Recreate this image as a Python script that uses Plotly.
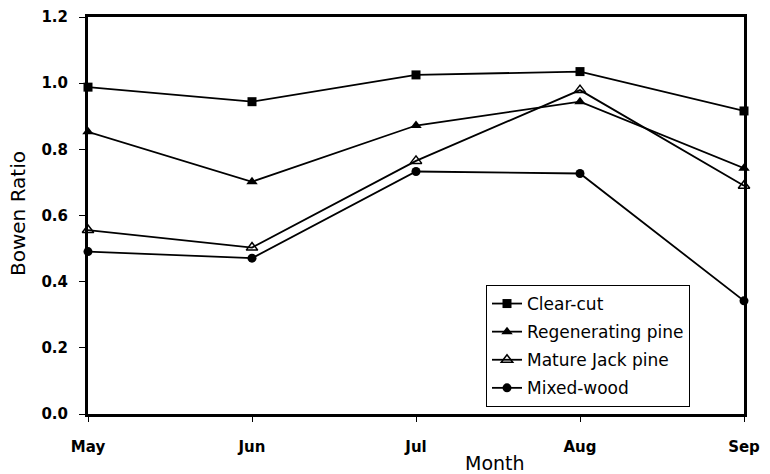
import plotly.graph_objects as go

months = ["May", "Jun", "Jul", "Aug", "Sep"]
clear_cut = [0.988, 0.944, 1.025, 1.035, 0.916]
regenerating_pine = [0.853, 0.702, 0.872, 0.944, 0.743]
mature_jack_pine = [0.556, 0.503, 0.765, 0.979, 0.690]
mixed_wood = [0.491, 0.471, 0.733, 0.727, 0.342]
y_ticks = [0.0, 0.2, 0.4, 0.6, 0.8, 1.0, 1.2]

series = [
    ("Clear-cut", clear_cut, dict(symbol="square", size=9, color="black")),
    ("Regenerating pine", regenerating_pine, dict(symbol="triangle-up", size=10, color="black")),
    ("Mature Jack pine", mature_jack_pine, dict(symbol="triangle-up-open", size=10, color="black", line=dict(width=1.5, color="black"))),
    ("Mixed-wood", mixed_wood, dict(symbol="circle", size=9, color="black")),
]

x_idx = list(range(len(months)))
fig = go.Figure()
for i, (name, vals, mk) in enumerate(series):
    fig.add_trace(go.Scatter(
        x=x_idx, y=vals, name=name, mode="lines+markers", legendgroup=f"g{i}",
        line=dict(color="black", width=1.8), marker=mk, cliponaxis=False,
    ))

FONT = "DejaVu Sans, Verdana, sans-serif"
L, R, T, B = 88, 26, 17, 60
W, H = 770, 474
pw, ph = W - L - R, H - T - B

fig.update_layout(
    width=W, height=H,
    margin=dict(l=L, r=R, t=T, b=B, autoexpand=False),
    paper_bgcolor="white", plot_bgcolor="white",
    font=dict(family=FONT, size=16, color="black"),
    showlegend=True,
    legend=dict(x=(486 - L) / pw, y=(T + ph - 285) / ph, xanchor="left", yanchor="top",
                bordercolor="black", borderwidth=1, bgcolor="white",
                font=dict(size=17), tracegroupgap=3, traceorder="grouped", itemwidth=30),
    xaxis=dict(range=[0, 4], tickvals=x_idx, ticktext=months, showgrid=False,
               zeroline=False, showline=True, linecolor="black", linewidth=3,
               mirror=True, ticks="outside", ticklen=5, tickcolor="black", tickwidth=1,
               tickfont=dict(size=15, weight="bold"), automargin=False,
               ticklabelstandoff=12),
    yaxis=dict(range=[0, 1.2], tickvals=y_ticks, ticktext=[f"{v:.1f}" for v in y_ticks],
               showgrid=False, zeroline=False, showline=True, linecolor="black",
               linewidth=3, mirror=True, ticks="outside", ticklen=6, tickcolor="black", tickwidth=1,
               tickfont=dict(size=15, weight="bold"), automargin=False,
               ticklabelstandoff=8),
    annotations=[
        dict(text="Bowen Ratio", xref="paper", yref="paper",
             x=(18 - L) / pw, y=(T + ph - 214) / ph, textangle=-90,
             showarrow=False, font=dict(size=20), xanchor="center", yanchor="middle"),
        dict(text="Month", xref="paper", yref="paper",
             x=(495 - L) / pw, y=(T + ph - 463) / ph,
             showarrow=False, font=dict(size=19), xanchor="center", yanchor="middle"),
    ],
)
fig.write_html("out.html", config={"displayModeBar": False},
               post_script="document.body.style.margin='0';document.body.style.padding='0';")
